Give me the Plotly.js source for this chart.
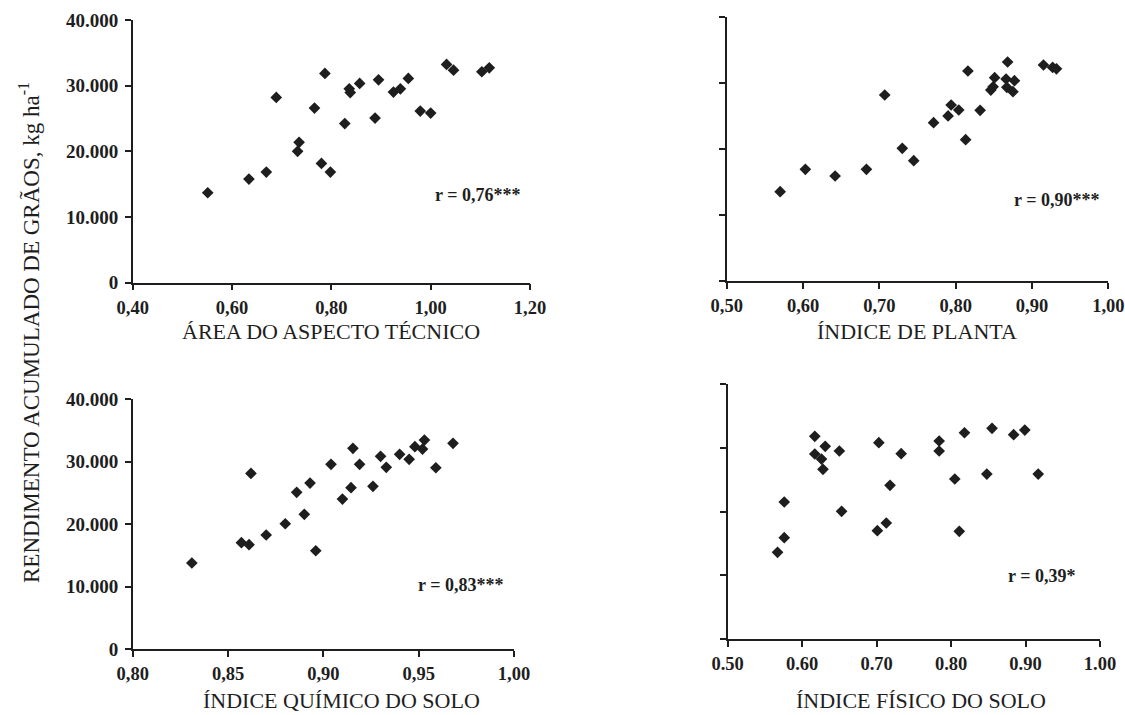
<!DOCTYPE html>
<html>
<head>
<meta charset="utf-8">
<script src="https://cdn.plot.ly/plotly-3.0.1.min.js"></script>
<style>html,body{margin:0;padding:0;background:#fff;} #chart{width:1125px;height:715px;}</style>
</head>
<body>
<div id="chart"></div>
<script>
// Panel 1: Área do aspecto técnico
const p1x = [0.551,0.634,0.669,0.689,0.732,0.735,0.766,0.787,0.780,0.798,0.827,0.836,0.838,0.857,0.895,0.888,0.925,0.939,0.955,0.979,1.000,1.032,1.046,1.103,1.118];
const p1y = [13700,15780,16850,28220,20000,21370,26590,31870,18170,16850,24230,29530,28950,30350,30900,25070,29030,29530,31110,26130,25830,33240,32370,32120,32720];
// Panel 2: Índice de planta
const p2x = [0.570,0.603,0.642,0.683,0.707,0.730,0.745,0.771,0.790,0.794,0.804,0.813,0.816,0.832,0.846,0.849,0.851,0.866,0.868,0.867,0.875,0.877,0.915,0.927,0.932];
const p2y = [13580,16970,15950,16970,28230,20150,18270,24030,25050,26710,25950,21450,31860,25910,28980,29480,30850,30650,33230,29390,28730,30390,32770,32400,32200];
// Panel 3: Índice químico do solo
const p3x = [0.831,0.857,0.861,0.862,0.870,0.880,0.886,0.890,0.893,0.896,0.904,0.910,0.9145,0.9155,0.919,0.926,0.930,0.933,0.940,0.945,0.948,0.953,0.952,0.959,0.968];
const p3y = [13790,17030,16710,28110,18260,20060,25080,21560,26560,15750,29550,24010,25820,32110,29550,26040,30830,29070,31150,30350,32370,33430,32000,29010,32910];
// Panel 4: Índice físico do solo
const p4x = [0.567,0.576,0.576,0.617,0.617,0.626,0.631,0.628,0.650,0.653,0.701,0.703,0.713,0.718,0.733,0.784,0.784,0.818,0.805,0.811,0.855,0.848,0.884,0.899,0.917];
const p4y = [13600,15890,21490,31800,29020,28230,30220,26620,29490,20030,16990,30800,18200,24110,29070,31060,29490,32360,25100,16890,33050,25880,32050,32780,25880];

const yTickVals = [0,10000,20000,30000,40000];
const yTickText = ["0","10.000","20.000","30.000","40.000"];
const x1TickVals = [0.4,0.6,0.8,1.0,1.2];
const x1TickText = ["0,40","0,60","0,80","1,00","1,20"];
const x2TickVals = [0.5,0.6,0.7,0.8,0.9,1.0];
const x2TickText = ["0,50","0,60","0,70","0,80","0,90","1,00"];
const x3TickVals = [0.80,0.85,0.90,0.95,1.00];
const x3TickText = ["0,80","0,85","0,90","0,95","1,00"];
const x4TickVals = [0.5,0.6,0.7,0.8,0.9,1.0];
const x4TickText = ["0.50","0.60","0.70","0.80","0.90","1.00"];

const xTitles = ["ÁREA DO ASPECTO TÉCNICO","ÍNDICE DE PLANTA","ÍNDICE QUÍMICO DO SOLO","ÍNDICE FÍSICO DO SOLO"];
const rLabels = ["r = 0,76***","r = 0,90***","r = 0,83***","r = 0,39*"];
const yTitle = "RENDIMENTO ACUMULADO DE GRÃOS, kg ha<sup>-1</sup>";

const serif = "Liberation Serif";
const ink = "#1e1e1e";
const marker = {symbol:"diamond", size:9, color:ink, line:{width:0}};
const bold = a => a.map(s => "<b>" + s + "</b>");

function tr(x,y,xa,ya){return {x:x,y:y,xaxis:xa,yaxis:ya,type:"scatter",mode:"markers",marker:marker,hoverinfo:"x+y",showlegend:false};}
const data = [tr(p1x,p1y,"x","y"),tr(p2x,p2y,"x2","y2"),tr(p3x,p3y,"x3","y3"),tr(p4x,p4y,"x4","y4")];

function xax(dom, rng, tv, tt, anchor){
  return {domain:dom, range:rng, anchor:anchor, tickmode:"array", tickvals:tv, ticktext:bold(tt),
    showline:true, linecolor:ink, linewidth:1.5, ticks:"outside", ticklen:6, tickwidth:1.5, tickcolor:ink,
    showgrid:false, zeroline:false, ticklabelstandoff:1,
    tickfont:{family:serif, size:18.5, color:ink}};
}
function yax(dom, anchor, labels){
  return {domain:dom, range:[0,40000], anchor:anchor, tickmode:"array", tickvals:yTickVals, ticktext:bold(yTickText),
    showticklabels:labels, showline:true, linecolor:ink, linewidth:1.5, ticks:"outside", ticklen:6, tickwidth:1.5, tickcolor:ink,
    showgrid:false, zeroline:false, ticklabelstandoff:3,
    tickfont:{family:serif, size:19, color:ink}};
}
const titleFont = {family:serif, size:22, color:ink};
const rFont = {family:serif, size:18, color:ink};
function pa(px, py, text, font, angle){
  return {xref:"paper", yref:"paper", x:px/1125, y:1-py/715, xanchor:"center", yanchor:"middle",
    text:text, showarrow:false, font:font, textangle:angle||0};
}

const layout = {
  width:1125, height:715, margin:{l:0,r:0,t:0,b:0}, paper_bgcolor:"#fff", plot_bgcolor:"#fff",
  xaxis: xax([0.1180,0.4711],[0.4,1.2],x1TickVals,x1TickText,"y"),
  yaxis: yax([0.6046,0.9720],"x",true),
  xaxis2: xax([0.6460,0.9852],[0.5,1.0],x2TickVals,x2TickText,"y2"),
  yaxis2: yax([0.6066,0.9758],"x2",false),
  xaxis3: xax([0.1180,0.4569],[0.8,1.0],x3TickVals,x3TickText,"y3"),
  yaxis3: yax([0.0919,0.4420],"x3",true),
  xaxis4: xax([0.6468,0.9778],[0.5,1.0],x4TickVals,x4TickText,"y4"),
  yaxis4: yax([0.1063,0.4629],"x4",false),
  annotations:[
    {xref:"x", yref:"y", x:1.094, y:13350, text:"<b>"+rLabels[0]+"</b>", showarrow:false, font:rFont},
    {xref:"x2", yref:"y2", x:0.932, y:12320, text:"<b>"+rLabels[1]+"</b>", showarrow:false, font:rFont},
    {xref:"x3", yref:"y3", x:0.972, y:10270, text:"<b>"+rLabels[2]+"</b>", showarrow:false, font:rFont},
    {xref:"x4", yref:"y4", x:0.9217, y:9880, text:"<b>"+rLabels[3]+"</b>", showarrow:false, font:rFont},
    pa(331, 331, xTitles[0], titleFont),
    pa(917, 331, xTitles[1], titleFont),
    pa(341, 700, xTitles[2], titleFont),
    pa(921, 700, xTitles[3], titleFont),
    pa(29, 333, yTitle, {family:serif,size:23,color:ink}, -90)
  ]
};
Plotly.newPlot("chart", data, layout, {displayModeBar:false});
</script>
</body>
</html>
